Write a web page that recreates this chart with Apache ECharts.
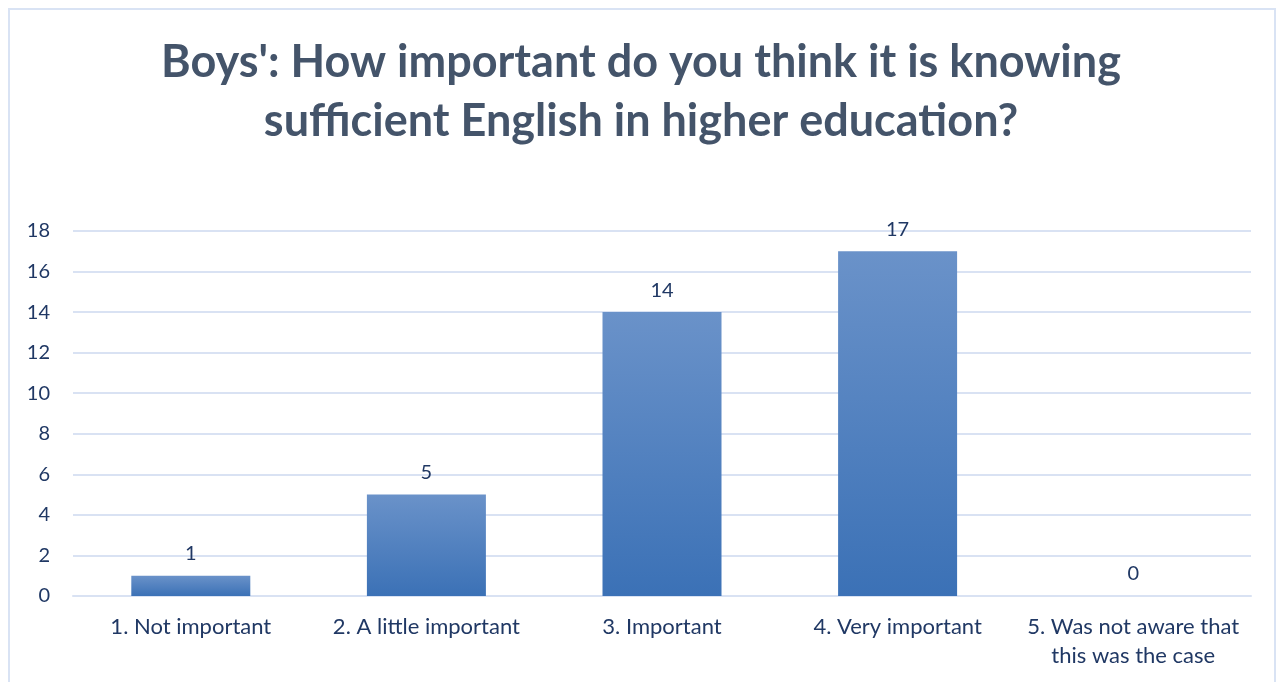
<!DOCTYPE html>
<html>
<head>
<meta charset="utf-8">
<script src="https://cdn.jsdelivr.net/npm/echarts@6/dist/echarts.min.js"></script>
<style>
  html, body { margin: 0; padding: 0; background: #fff; }
  #frame { position: absolute; left: 8px; top: 8px; width: 1268px; height: 700px; border: 2px solid #D9E3F4; box-sizing: border-box; }
  #chart { position: absolute; left: 0; top: 0; width: 1282px; height: 682px; }
</style>
</head>
<body>
<div id="frame"></div>
<div id="chart"></div>
<script>
const titleText = "Boys': How important do you think it is knowing\nsufficient English in higher education?";
const categories = ["1. Not important", "2. A little important", "3. Important", "4. Very important", "5. Was not aware that\nthis was the case"];
const counts = [1, 5, 14, 17, 0];
const yTicks = { min: 0, max: 18, interval: 2 };

const textColor = '#203864';
const fontFamily = 'Lato, "Open Sans", sans-serif';

const chart = echarts.init(document.getElementById('chart'));
chart.setOption({
  animation: false,
  title: {
    text: titleText,
    left: 'center',
    top: 28,
    textStyle: { fontFamily: fontFamily, fontSize: 45, fontWeight: 'bold', color: '#44546A', lineHeight: 59 }
  },
  grid: { left: 73, right: 31, top: 231, bottom: 86 },
  xAxis: {
    type: 'category',
    data: categories,
    axisLine: { show: true, lineStyle: { color: '#D9E2F3', width: 2 } },
    axisTick: { show: false },
    axisLabel: { color: textColor, fontFamily: fontFamily, fontSize: 22, lineHeight: 29, margin: 16, interval: 0 }
  },
  yAxis: {
    type: 'value',
    min: yTicks.min, max: yTicks.max, interval: yTicks.interval,
    axisLine: { show: false },
    axisTick: { show: false },
    splitLine: { lineStyle: { color: '#D9E2F3', width: 2 } },
    axisLabel: { color: textColor, fontFamily: fontFamily, fontSize: 20, margin: 23 }
  },
  series: [{
    type: 'bar',
    data: counts,
    barWidth: 119,
    itemStyle: {
      color: new echarts.graphic.LinearGradient(0, 0, 0, 1, [
        { offset: 0, color: '#6A92C9' },
        { offset: 1, color: '#3B71B6' }
      ])
    },
    label: {
      show: true, position: 'top', distance: 12,
      color: textColor, fontFamily: fontFamily, fontSize: 20
    }
  }]
});
</script>
</body>
</html>
